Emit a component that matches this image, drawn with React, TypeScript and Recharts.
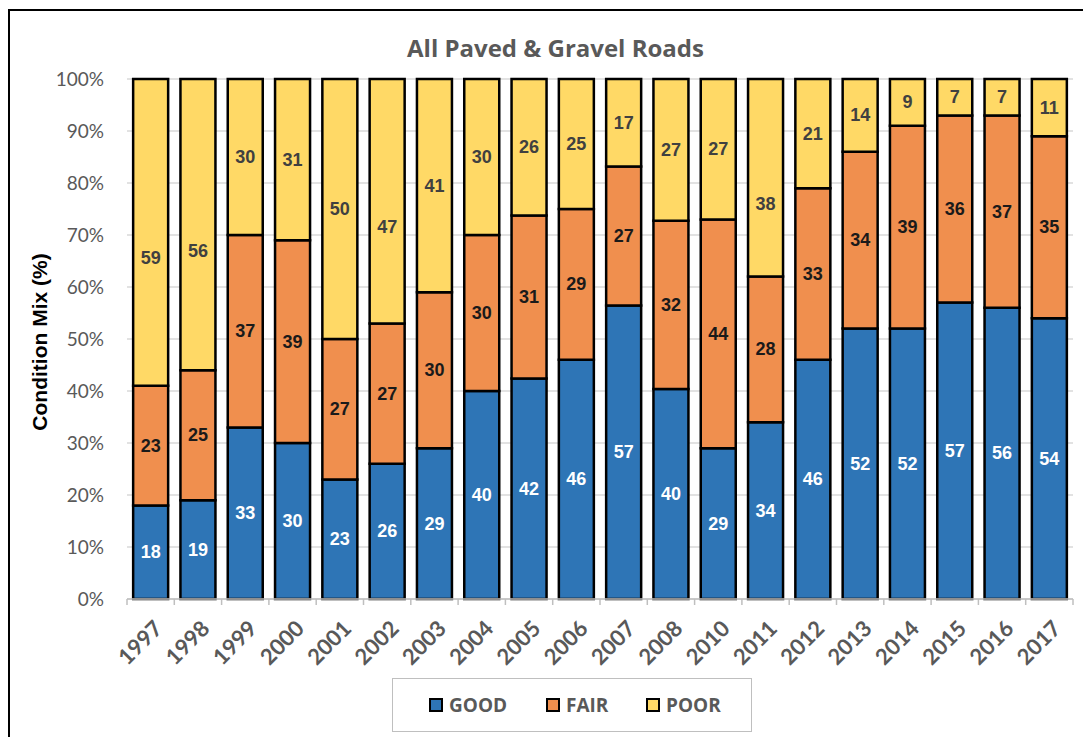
import React from "react";
import {
  BarChart,
  Bar,
  XAxis,
  YAxis,
  CartesianGrid,
  LabelList,
} from "recharts";

const years = [
  "1997", "1998", "1999", "2000", "2001", "2002", "2003", "2004", "2005", "2006",
  "2007", "2008", "2010", "2011", "2012", "2013", "2014", "2015", "2016", "2017",
];
const good = [18, 19, 33, 30, 23, 26, 29, 40, 42, 46, 57, 40, 29, 34, 46, 52, 52, 57, 56, 54];
const fair = [23, 25, 37, 39, 27, 27, 30, 30, 31, 29, 27, 32, 44, 28, 33, 34, 39, 36, 37, 35];
const poor = [59, 56, 30, 31, 50, 47, 41, 30, 26, 25, 17, 27, 27, 38, 21, 14, 9, 7, 7, 11];
const yTicks = [0, 0.1, 0.2, 0.3, 0.4, 0.5, 0.6, 0.7, 0.8, 0.9, 1];

// in the original a few POOR labels were dragged down from the centre
const nudgedPoorYears = ["1997", "1998", "2002", "2011"];

const BLUE = "#2E75B6";
const ORANGE = "#F08F4E";
const YELLOW = "#FFD966";
const GRAY_TEXT = "#595959";

const W = 1075;
const H = 729;
const PLOT_LEFT = 119;
const PLOT_RIGHT = 1065;
const PLOT_TOP = 71;
const PLOT_BOTTOM = 591;
const BAND = (PLOT_RIGHT - PLOT_LEFT) / years.length;

const data = years.map((year, i) => ({
  year,
  good: good[i],
  fair: fair[i],
  poor: poor[i],
}));

const YearTick = (props: any) => {
  const { x, y, payload, index } = props;
  const last = index === years.length - 1;
  const ax = x + 2;
  const ay = y + 20;
  return (
    <g>
      <line x1={x - BAND / 2} y1={y} x2={x - BAND / 2} y2={y + 6} stroke="#BFBFBF" strokeWidth={1.5} />
      {last && (
        <line x1={x + BAND / 2} y1={y} x2={x + BAND / 2} y2={y + 6} stroke="#BFBFBF" strokeWidth={1.5} />
      )}
      <text
        x={ax}
        y={ay}
        textAnchor="end"
        transform={`rotate(-45, ${ax}, ${ay})`}
        fill={GRAY_TEXT}
        fontFamily="Lato, sans-serif"
        fontWeight="bold"
        fontSize={22}
        dy="0.71em"
      >
        {payload.value}
      </text>
    </g>
  );
};

const makeLabel = (color: string, nudge?: string[]) => (props: any) => {
  const { x, y, width, height, value, index } = props;
  const shift = nudge && nudge.includes(years[index]) ? 26 : 0;
  return (
    <text
      x={x + width / 2}
      y={y + height / 2 + shift}
      textAnchor="middle"
      dominantBaseline="central"
      fill={color}
      fontFamily="'Liberation Sans', Arial, sans-serif"
      fontWeight="bold"
      fontSize={18}
    >
      {value}
    </text>
  );
};

const legendItems = [
  { name: "GOOD", color: BLUE, left: 421 },
  { name: "FAIR", color: ORANGE, left: 538 },
  { name: "POOR", color: YELLOW, left: 638 },
];

export default function App(): JSX.Element {
  return (
    <div style={{ position: "relative", width: W, height: H, overflow: "hidden", background: "#fff" }}>
      <div
        style={{
          position: "absolute",
          left: 0,
          top: 1,
          width: W + 100,
          height: H + 100,
          borderLeft: "2.5px solid #000",
          borderTop: "2.5px solid #000",
          boxSizing: "border-box",
        }}
      />
      <div
        style={{
          position: "absolute",
          left: 0,
          width: 1095,
          top: 23,
          textAlign: "center",
          fontFamily: "'Open Sans', sans-serif",
          fontWeight: "bold",
          fontSize: 24,
          color: GRAY_TEXT,
        }}
      >
        All Paved &amp; Gravel Roads
      </div>
      <div
        style={{
          position: "absolute",
          left: 32,
          top: 334,
          transform: "translate(-50%, -50%) rotate(-90deg)",
          whiteSpace: "nowrap",
          fontFamily: "'Liberation Sans', Arial, sans-serif",
          fontWeight: "bold",
          fontSize: 21,
          color: "#000",
        }}
      >
        Condition Mix (%)
      </div>
      <div style={{ position: "absolute", left: 0, top: 0 }}>
        <BarChart
          width={W}
          height={H}
          data={data}
          stackOffset="expand"
          barCategoryGap="13%"
          margin={{ top: PLOT_TOP, right: W - PLOT_RIGHT, left: 0, bottom: H - PLOT_BOTTOM - 60 }}
        >
          <CartesianGrid vertical={false} stroke="#D9D9D9" strokeWidth={1.5} />
          <XAxis
            dataKey="year"
            height={60}
            interval={0}
            tickLine={false}
            tickSize={0}
            tickMargin={0}
            stroke="#BFBFBF"
            strokeWidth={1.5}
            tick={<YearTick />}
          />
          <YAxis
            width={PLOT_LEFT}
            domain={[0, 1]}
            ticks={yTicks}
            axisLine={false}
            tickLine={false}
            tickSize={0}
            tickMargin={23}
            tickFormatter={(v: number) => `${Math.round(v * 100)}%`}
            tick={{ fill: GRAY_TEXT, fontSize: 19, fontFamily: "Lato, sans-serif" }}
          />
          <Bar dataKey="good" stackId="a" fill={BLUE} stroke="#000" strokeWidth={2.5} isAnimationActive={false}>
            <LabelList dataKey="good" content={makeLabel("#fff")} />
          </Bar>
          <Bar dataKey="fair" stackId="a" fill={ORANGE} stroke="#000" strokeWidth={2.5} isAnimationActive={false}>
            <LabelList dataKey="fair" content={makeLabel("#1a1a1a")} />
          </Bar>
          <Bar dataKey="poor" stackId="a" fill={YELLOW} stroke="#000" strokeWidth={2.5} isAnimationActive={false}>
            <LabelList dataKey="poor" content={makeLabel("#404040", nudgedPoorYears)} />
          </Bar>
        </BarChart>
      </div>
      <div
        style={{
          position: "absolute",
          left: 384,
          top: 670,
          width: 360,
          height: 54,
          border: "1.5px solid #BFBFBF",
          boxSizing: "border-box",
        }}
      />
      {legendItems.map((item) => (
        <div
          key={item.name}
          style={{
            position: "absolute",
            left: item.left,
            top: 686,
            display: "flex",
            alignItems: "center",
            fontFamily: "'Open Sans', sans-serif",
            fontWeight: "bold",
            fontSize: 19,
            color: GRAY_TEXT,
            lineHeight: "22px",
          }}
        >
          <span
            style={{
              display: "inline-block",
              width: 14,
              height: 14,
              background: item.color,
              border: "2px solid #000",
              boxSizing: "border-box",
              marginRight: 6,
            }}
          />
          {item.name}
        </div>
      ))}
    </div>
  );
}
